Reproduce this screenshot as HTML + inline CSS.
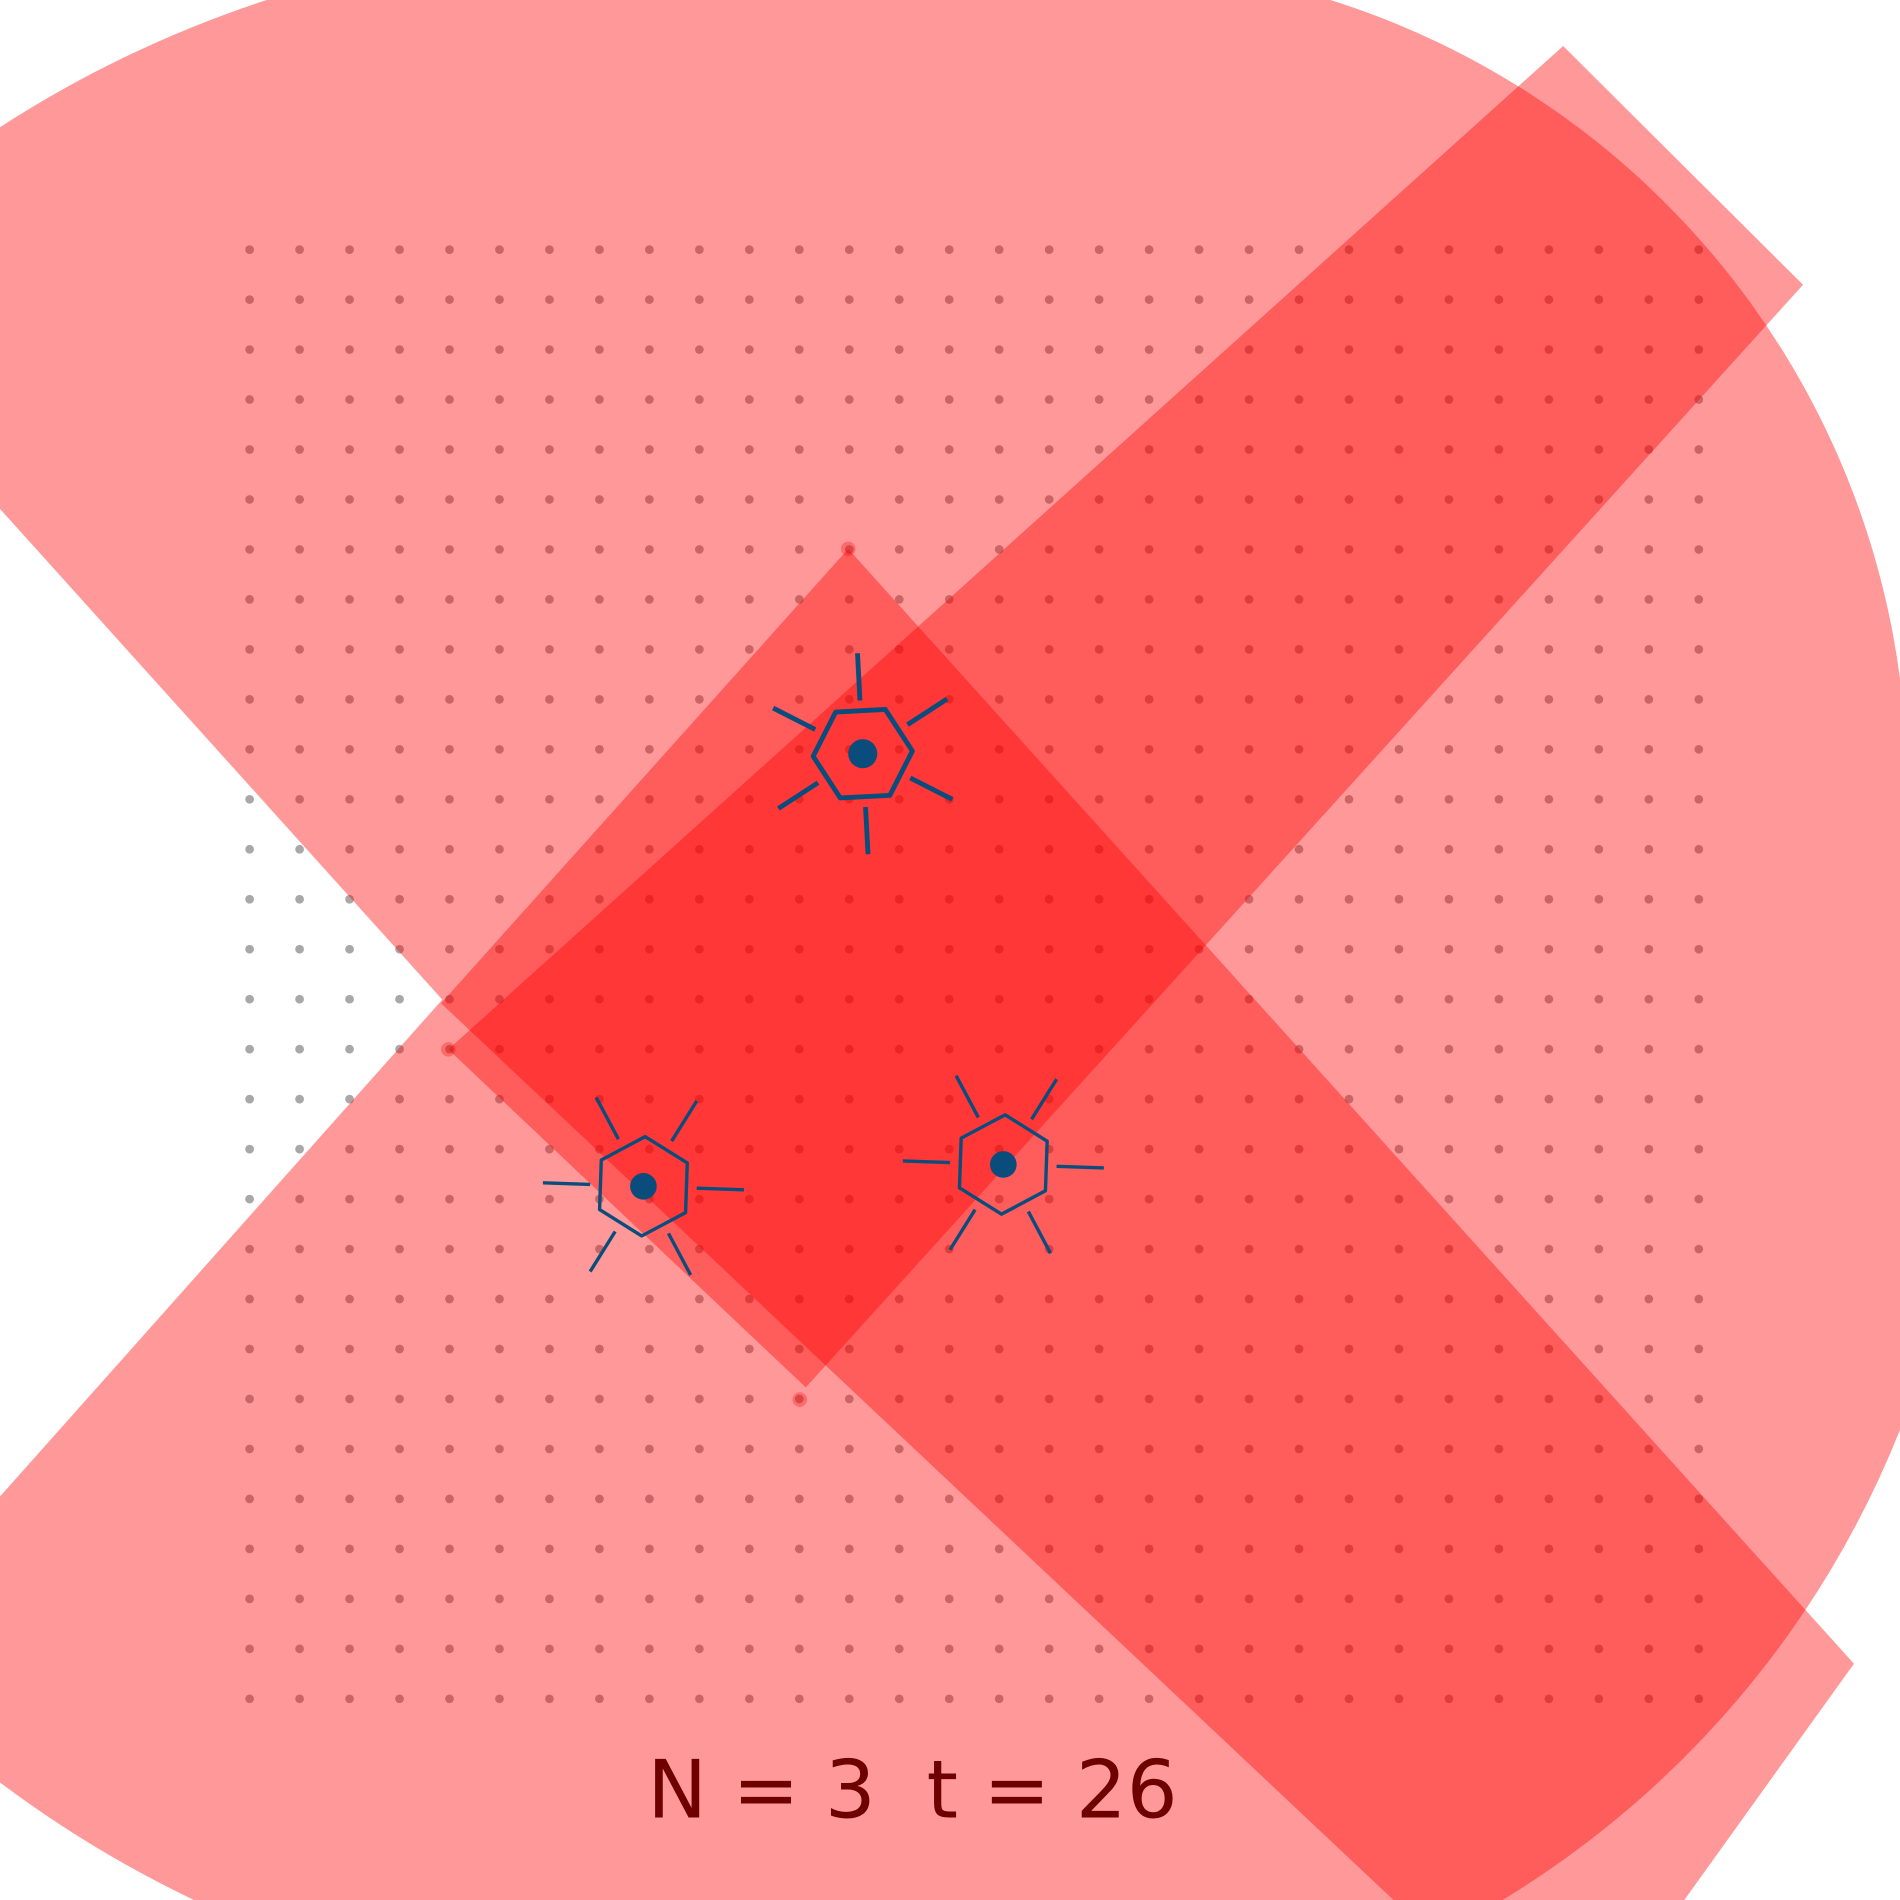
<!DOCTYPE html>
<html><head><meta charset="utf-8"><style>html,body{margin:0;padding:0;background:#fff;overflow:hidden}svg{display:block}</style></head>
<body>
<svg id="chart" width="1900" height="1900" viewBox="0 0 1568 1568" xmlns="http://www.w3.org/2000/svg">
<defs>
<mask id="wedgeMask"><rect x="-200" y="-200" width="2000" height="2000" fill="#fff"/><polygon id="wedgePoly" fill="#000" points=""/></mask>
</defs>
<g id="dots"></g>
<g id="shapes"></g>
<g id="agents"></g>
<text x="753" y="1500" text-anchor="middle" font-family="DejaVu Sans, Liberation Sans, sans-serif" font-size="66" fill="#6e0000" xml:space="preserve">N = 3  t = 26</text>
</svg>
<script>
const gridCols = 30;
const gridRows = 30;
const gridStart = 206;
const gridStep = 41.24;
const boundaryX = [0,220,1098,1568,1568,1240,160,0];
const boundaryY = [105,0,0,560,1180,1568,1568,1471];
const edgeArc = [true,false,true,false,true,false,true,false];
const arcRadius = [950,0,680,0,800,0,950,0];
const wedgeApex = [365,825];
const bandA = [[1290,38],[1488,235],[665,1145],[370,866]];
const bandB = [[700,453],[1530,1373],[1390,1568],[1150,1568],[364,828]];
const vertexMarks = [[700,453],[370,866],[660,1155]];
const agentX = [712,531,828];
const agentY = [622,979,961];
const agentRot = [-3,-88,-88];
const agentStroke = [4,2.8,2.8];
const NS = 'http://www.w3.org/2000/svg';
function mk(tag, attrs, parent){const e=document.createElementNS(NS,tag);for(const k in attrs)e.setAttribute(k,attrs[k]);parent.appendChild(e);return e;}
const dots=document.getElementById('dots');
for(let r=0;r<gridRows;r++)for(let c=0;c<gridCols;c++){
  const d=mk('circle',{cx:gridStart+c*gridStep,cy:gridStart+r*gridStep,r:3.6,fill:'#a8a8a8'},dots);
  
  
}
const [ax,ay]=wedgeApex;
const s1=(ay-420)/ax, s2=(1235-ay)/ax;
document.getElementById('wedgePoly').setAttribute('points',`${ax},${ay} ${-600},${ay-(ax+600)*s1} ${-600},${ay+(ax+600)*s2}`);
function outerPath(){
  const n=boundaryX.length;let d=`M${boundaryX[0]},${boundaryY[0]}`;
  for(let i=0;i<n;i++){const j=(i+1)%n;const x=boundaryX[j],y=boundaryY[j];
    if(edgeArc[i]) d+=` A${arcRadius[i]},${arcRadius[i]} 0 0 1 ${x},${y}`;
    else{
      const x0=boundaryX[i],y0=boundaryY[i];
      if(y0===y&&y<=0) d+=` L${x0},-300 L${x},-300 L${x},${y}`;
      else if(y0===y&&y>=1568) d+=` L${x0},1900 L${x},1900 L${x},${y}`;
      else if(x0===x&&x>=1568) d+=` L1900,${y0} L1900,${y} L${x},${y}`;
      else d+=` L-300,${y0} L-300,${y} L${x},${y}`;
    }}
  return d+'Z';
}
const shapes=document.getElementById('shapes');
const big=mk('path',{d:outerPath(),fill:'#ff0000','fill-opacity':0.4,mask:'url(#wedgeMask)'},shapes);


const pa=mk('polygon',{points:bandA.map(p=>p.join(',')).join(' '),fill:'#ff0000','fill-opacity':0.4},shapes);


const pb=mk('polygon',{points:bandB.map(p=>p.join(',')).join(' '),fill:'#ff0000','fill-opacity':0.4},shapes);


vertexMarks.forEach(v=>{const m=mk('circle',{cx:v[0],cy:v[1],r:6,fill:'#ff0000','fill-opacity':0.3},shapes);
  
  });
const ag=document.getElementById('agents');
const col='#0a4d7c';
for(let i=0;i<agentX.length;i++){
  const g=mk('g',{},ag);
  
  
  const cx=agentX[i],cy=agentY[i],rot=agentRot[i],sw=agentStroke[i];
  const pts=[];
  for(let k=0;k<6;k++){const a=(rot+60*k)*Math.PI/180;pts.push(`${cx+41*Math.cos(a)},${cy+41*Math.sin(a)}`);}
  mk('polygon',{points:pts.join(' '),fill:'none',stroke:col,'stroke-width':sw,'stroke-linejoin':'round'},g);
  for(let k=0;k<6;k++){const a=(rot+30+60*k)*Math.PI/180;
    mk('line',{x1:cx+44*Math.cos(a),y1:cy+44*Math.sin(a),x2:cx+83*Math.cos(a),y2:cy+83*Math.sin(a),stroke:col,'stroke-width':sw},g);}
  mk('circle',{cx:cx,cy:cy,r:i===0?12:11,fill:col},g);
}
</script>
</body></html>
